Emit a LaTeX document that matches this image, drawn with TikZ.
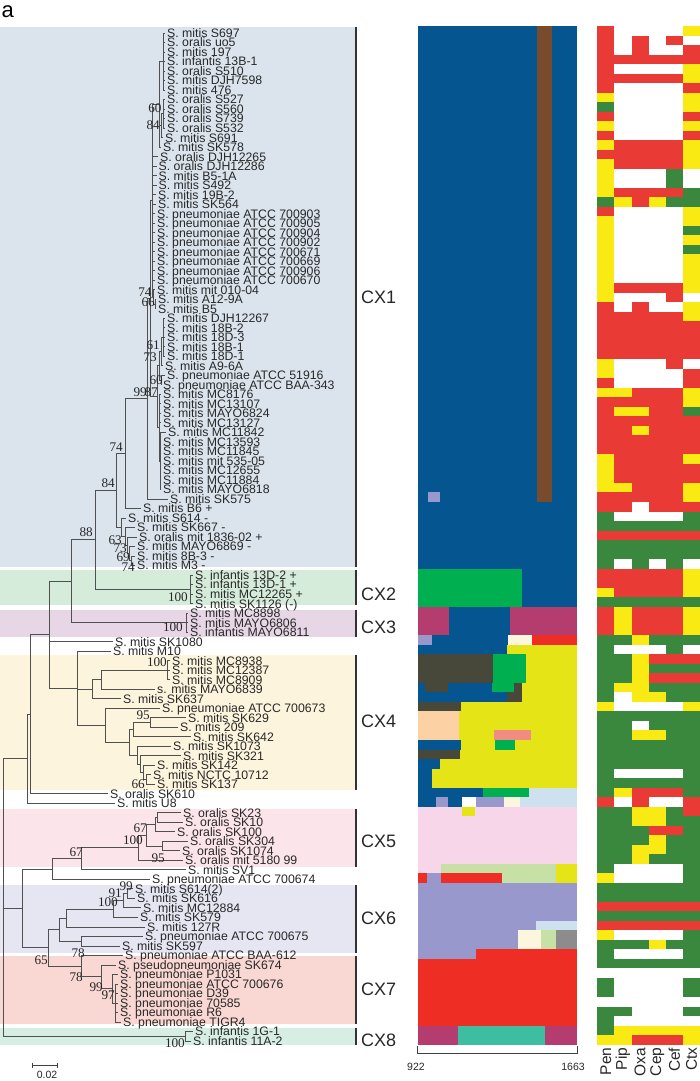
\documentclass[tikz,border=0pt]{standalone}
\usepackage{fontspec}
\setmainfont{Liberation Sans}
\newfontfamily\bsfont{Liberation Serif}
\usetikzlibrary{calc}
\definecolor{bandA}{RGB}{219,228,237}
\definecolor{bandB}{RGB}{214,236,219}
\definecolor{bandC}{RGB}{231,214,229}
\definecolor{bandD}{RGB}{253,244,221}
\definecolor{bandE}{RGB}{252,228,235}
\definecolor{bandF}{RGB}{229,230,242}
\definecolor{bandG}{RGB}{249,216,211}
\definecolor{bandH}{RGB}{214,238,228}
\definecolor{mBlue}{RGB}{5,85,145}
\definecolor{mBrown}{RGB}{120,75,45}
\definecolor{mGreen}{RGB}{0,175,80}
\definecolor{mPlum}{RGB}{180,60,110}
\definecolor{mLav}{RGB}{152,152,204}
\definecolor{mCream}{RGB}{250,247,222}
\definecolor{mRed}{RGB}{238,45,36}
\definecolor{mYel}{RGB}{228,228,22}
\definecolor{mOlive}{RGB}{72,72,58}
\definecolor{mPeach}{RGB}{252,210,165}
\definecolor{mSalmon}{RGB}{240,140,130}
\definecolor{mLblue}{RGB}{205,225,238}
\definecolor{mPink}{RGB}{246,214,232}
\definecolor{mLgreen}{RGB}{198,224,165}
\definecolor{mGray}{RGB}{140,140,140}
\definecolor{mTeal}{RGB}{62,190,160}
\definecolor{hR}{RGB}{234,58,53}
\definecolor{hY}{RGB}{250,234,20}
\definecolor{hG}{RGB}{58,135,62}
\definecolor{hW}{RGB}{255,255,255}
\definecolor{brc}{RGB}{80,80,80}
\definecolor{txc}{RGB}{40,40,40}
\newcommand\TNode[4]{\path let \p1=(#3), \p2=(#4) in coordinate (#1) at ({#2pt},{0.5*(\y1+\y2)});}
\newcommand\TEdge[2]{\foreach \ch in {#2}{\draw[br] (#1) |- (\ch);}}
\newcommand\MBox[5]{\fill[#5] (#1,{26+(#3-1)*9.52}) rectangle (#2,{26+#4*9.52});}
\newcommand\BLab[3]{\node[bsl] at (#1,#2) {#3};}
\begin{document}
\begin{tikzpicture}[x=1pt,y=-1pt,
  br/.style={draw=brc,line width=0.9pt},
  leaf/.style={anchor=base west,inner sep=0pt,text=txc,font=\fontsize{12.3}{12}\selectfont},
  bsl/.style={anchor=south east,inner sep=0pt,text=black!85,font=\bsfont\fontsize{13.2}{13}\selectfont},
  cxl/.style={anchor=west,inner sep=0pt,text=txc,font=\fontsize{18}{18}\selectfont},
  hml/.style={rotate=90,anchor=east,inner sep=0pt,text=txc,font=\fontsize{15.5}{15.5}\selectfont},
  axl/.style={anchor=north,inner sep=0pt,text=txc,font=\fontsize{10.5}{10.5}\selectfont}]
\useasboundingbox (0,0) rectangle (700,1081);
\fill[white] (0,0) rectangle (700,1081);
% clade bands
\fill[bandA] (0,27) rectangle (355,567);
\fill[bandB] (0,570) rectangle (355,605);
\fill[bandC] (0,610) rectangle (355,637);
\fill[bandD] (0,655) rectangle (355,790);
\fill[bandE] (0,809) rectangle (355,867);
\fill[bandF] (0,885) rectangle (355,953);
\fill[bandG] (0,956) rectangle (355,1024);
\fill[bandH] (0,1028) rectangle (355,1045);
\foreach \ya/\yb in {27/567,570/605,610/637,655/790,809/867,885/953,956/1024,1028/1045}
  {\draw[line width=1.8pt,black!80] (356,\ya) -- (356,\yb);}
\node[cxl] (cx1) at (361,297) {CX1};
\node[cxl] (cx2l) at (361,594) {CX2};
\node[cxl] (cx3l) at (361,627) {CX3};
\node[cxl] (cx4l) at (361,721) {CX4};
\node[cxl] (cx5l) at (361,841) {CX5};
\node[cxl] (cx6l) at (361,918) {CX6};
\node[cxl] (cx7l) at (361,989) {CX7};
\node[cxl] (cx8l) at (361,1040) {CX8};
\node[anchor=base west,inner sep=0pt,font=\fontsize{22}{22}\selectfont] (pa) at (1.5,18) {a};
% leaves
\foreach \i/\x/\t in {
1/165/S. mitis S697, 2/165/S. oralis uo5, 3/165/S. mitis 197, 4/165/S. infantis 13B-1,
5/165/S. oralis S510, 6/165/S. mitis DJH7598, 7/165/S. mitis 476, 8/165/S. oralis S527,
9/165/S. oralis S560, 10/165/S. oralis S739, 11/165/S. oralis S532, 12/163/S. mitis S691,
13/161/S. mitis SK578, 14/158/S. oralis DJH12265, 15/156.5/S. oralis DJH12286,
16/156.5/S. mitis B5-1A, 17/156.5/S. mitis S492, 18/156/S. mitis 19B-2, 19/156/S. mitis SK564,
20/155/S. pneumoniae ATCC 700903, 21/155/S. pneumoniae ATCC 700905, 22/155/S. pneumoniae ATCC 700904,
23/155/S. pneumoniae ATCC 700902, 24/155/S. pneumoniae ATCC 700671, 25/155/S. pneumoniae ATCC 700669,
26/155/S. pneumoniae ATCC 700906, 27/155/S. pneumoniae ATCC 700670, 28/155/S. mitis mit 010-04,
29/156/S. mitis A12-9A, 30/156/S. mitis B5, 31/165/S. mitis DJH12267, 32/165/S. mitis 18B-2,
33/165/S. mitis 18D-3, 34/165/S. mitis 18B-1, 35/165/S. mitis 18D-1, 36/163/S. mitis A9-6A,
37/165/S. pneumoniae ATCC 51916, 38/161/S. pneumoniae ATCC BAA-343, 39/161/S. mitis MC8176,
40/161/S. mitis MC13107, 41/161/S. mitis MAYO6824, 42/161/S. mitis MC13127, 43/166/S. mitis MC11842,
44/161/S. mitis MC13593, 45/161/S. mitis MC11845, 46/161/S. mitis mit 535-05, 47/161/S. mitis MC12655,
48/161/S. mitis MC11884, 49/161/S. mitis MAYO6818, 50/168/S. mitis SK575, 51/141/S. mitis B6 +,
52/126/S. mitis S614 -, 53/135/S. mitis SK667 -, 54/137/S. oralis mit 1836-02 +,
55/135/S. mitis MAYO6869 -, 56/135/S. mitis 8B-3 -, 57/135/S. mitis M3 -,
58/193/S. infantis 13D-2 +, 59/193/S. infantis 13D-1 +, 60/193/S. mitis MC12265 +, 61/193/S. mitis SK1126 (-),
62/188/S. mitis MC8898, 63/188/S. mitis MAYO6806, 64/188/S. infantis MAYO6811,
65/113/S. mitis SK1080, 66/111/S. mitis M10, 67/170/S. mitis MC8938, 68/170/S. mitis MC12387,
69/170/S. mitis MC8909, 70/155/s. mitis MAYO6839, 71/121/S. mitis SK637,
72/160/S. pneumoniae ATCC 700673, 73/186/S. mitis SK629, 74/178/S. mitis 209, 75/191/S. mitis SK642,
76/171/S. mitis SK1073, 77/181/S. mitis SK321, 78/155/S. mitis SK142, 79/151/S. mitis NCTC 10712,
80/155/S. mitis SK137, 81/108/S. oralis SK610, 82/115/S. mitis U8, 83/181/S. oralis SK23,
84/183/S. oralis SK10, 85/175/S. oralis SK100, 86/188/S. oralis SK304, 87/180/S. oralis SK1074,
88/183/S. oralis mit 5180 99, 89/186/S. mitis SV1, 90/150/S. pneumoniae ATCC 700674,
91/133/S. mitis S614(2), 92/135/S. mitis SK616, 93/141/S. mitis MC12884, 94/138/S. mitis SK579,
95/145/S. mitis 127R, 96/143/S. pneumoniae ATCC 700675, 97/120/S. mitis SK597,
98/123/S. pneumoniae ATCC BAA-612, 99/116/S. pseudopneumoniae SK674, 100/118/S. pneumoniae P1031,
101/118/S. pneumoniae ATCC 700676, 102/118/S. pneumoniae D39, 103/118/S. pneumoniae 70585,
104/118/S. pneumoniae R6, 105/121/S. pneumoniae TIGR4, 106/193/S. infantis 1G-1, 107/191/S. infantis 11A-2}
{\coordinate (l\i) at (\x,{33+(\i-1)*9.51});
 \node[leaf] (t\i) at (\x+2,{37.4+(\i-1)*9.51}) {\t};}
% internal nodes
\TNode{A1}{163.5}{l1}{l7}
\TNode{A60}{163}{l8}{l11}
\TNode{A84}{161.2}{A60}{l12}
\TNode{A2}{159.5}{A1}{l13}
\TNode{n66}{155}{l29}{l30}
\TNode{n74}{153.5}{l28}{n66}
\TNode{B1}{152.3}{A2}{n74}
\TNode{C1}{163}{l31}{l35}
\TNode{C2}{161}{C1}{l36}
\TNode{C60}{161}{l37}{l38}
\TNode{Cg}{159.5}{C2}{C60}
\TNode{D1}{160.2}{l43}{l49}
\TNode{Dg}{159.3}{l39}{D1}
\TNode{n87}{157.8}{Cg}{Dg}
\TNode{T1}{150}{B1}{n87}
\TNode{n99}{147}{T1}{l50}
\TNode{n74b}{125}{n99}{l51}
\TNode{k69}{131.5}{l56}{l57}
\TNode{k73}{129.5}{l55}{k69}
\TNode{k63}{127.5}{l54}{k73}
\TNode{k1}{125.5}{l53}{k63}
\TNode{k2}{121.5}{l52}{k1}
\TNode{n84}{116.7}{n74b}{k2}
\TNode{cx2}{190.5}{l58}{l61}
\TNode{n88}{95}{n84}{cx2}
\TNode{cx3}{186.5}{l62}{l64}
\TNode{n71}{71}{n88}{cx3}
\TNode{c67}{167.5}{l67}{l69}
\TNode{N1}{101.7}{c67}{l70}
\TNode{N2}{92.7}{N1}{l71}
\TNode{n95}{150}{l73}{l74}
\TNode{N4}{133}{n95}{l75}
\TNode{N7}{146.7}{l79}{l80}
\TNode{N6}{143.3}{l78}{N7}
\TNode{N5b}{140}{l77}{N6}
\TNode{N5}{137.3}{l76}{N5b}
\TNode{N34}{129}{N4}{N5}
\TNode{N3}{105}{l72}{N34}
\TNode{P77}{77}{l66}{N3}
\TNode{P49}{49.3}{n71}{P77}
\TNode{P30}{30.7}{P49}{l81}
\TNode{P27}{27}{P30}{l82}
\TNode{R157}{157.3}{l83}{l84}
\TNode{R155}{155}{R157}{l85}
\TNode{R162}{162}{l86}{l87}
\TNode{R148}{146}{R155}{R162}
\TNode{R138}{138.3}{R148}{l88}
\TNode{R82}{81.7}{R138}{l89}
\TNode{R52}{52.3}{R82}{l90}
\TNode{T99}{127}{l91}{l92}
\TNode{T91}{123}{T99}{l93}
\TNode{T100}{113.3}{T91}{l94}
\TNode{T67}{66.7}{T100}{l95}
\TNode{T82}{81.7}{l96}{l97}
\TNode{T59}{59.3}{T67}{T82}
\TNode{U115}{115}{l101}{l105}
\TNode{U112}{112.5}{l100}{U115}
\TNode{U101}{101.7}{l99}{U112}
\TNode{U81}{81.7}{l98}{U101}
\TNode{T48}{48.3}{T59}{U81}
\TNode{Q22}{22.3}{R52}{T48}
\TNode{V185}{185}{l106}{l107}
\TNode{root}{3.3}{P27}{V185}
% edges
\TEdge{A1}{l1,l2,l3,l4,l5,l6,l7}
\TEdge{A60}{l8,l9,l10,l11}
\TEdge{A84}{A60,l12}
\TEdge{A2}{A1,A84,l13}
\TEdge{n66}{l29,l30}
\TEdge{n74}{l28,n66}
\TEdge{B1}{A2,l14,l15,l16,l17,l18,l19,l20,l21,l22,l23,l24,l25,l26,l27,n74}
\TEdge{C1}{l31,l32,l33,l34,l35}
\TEdge{C2}{C1,l36}
\TEdge{C60}{l37,l38}
\TEdge{Cg}{C2,C60}
\TEdge{D1}{l43,l44,l45,l46,l47,l48,l49}
\TEdge{Dg}{l39,l40,l41,l42,D1}
\TEdge{n87}{Cg,Dg}
\TEdge{T1}{B1,n87}
\TEdge{n99}{T1,l50}
\TEdge{n74b}{n99,l51}
\TEdge{k69}{l56,l57}
\TEdge{k73}{l55,k69}
\TEdge{k63}{l54,k73}
\TEdge{k1}{l53,k63}
\TEdge{k2}{l52,k1}
\TEdge{n84}{n74b,k2}
\TEdge{cx2}{l58,l59,l60,l61}
\TEdge{n88}{n84,cx2}
\TEdge{cx3}{l62,l63,l64}
\TEdge{n71}{n88,cx3}
\TEdge{c67}{l67,l68,l69}
\TEdge{N1}{c67,l70}
\TEdge{N2}{N1,l71}
\TEdge{n95}{l73,l74}
\TEdge{N4}{n95,l75}
\TEdge{N7}{l79,l80}
\TEdge{N6}{l78,N7}
\TEdge{N5b}{l77,N6}
\TEdge{N5}{l76,N5b}
\TEdge{N34}{N4,N5}
\TEdge{N3}{l72,N34}
\TEdge{P77}{l66,N2,N3}
\TEdge{P49}{n71,l65,P77}
\TEdge{P30}{P49,l81}
\TEdge{P27}{P30,l82}
\TEdge{R157}{l83,l84}
\TEdge{R155}{R157,l85}
\TEdge{R162}{l86,l87}
\TEdge{R148}{R155,R162}
\TEdge{R138}{R148,l88}
\TEdge{R82}{R138,l89}
\TEdge{R52}{R82,l90}
\TEdge{T99}{l91,l92}
\TEdge{T91}{T99,l93}
\TEdge{T100}{T91,l94}
\TEdge{T67}{T100,l95}
\TEdge{T82}{l96,l97}
\TEdge{T59}{T67,T82}
\TEdge{U115}{l101,l102,l103,l104,l105}
\TEdge{U112}{l100,U115}
\TEdge{U101}{l99,U112}
\TEdge{U81}{l98,U101}
\TEdge{T48}{T59,U81}
\TEdge{Q22}{R52,T48}
\TEdge{V185}{l106,l107}
\TEdge{root}{P27,Q22,V185}
% bootstrap values
\BLab{161.7}{113}{60} \BLab{160}{130}{84} \BLab{151.7}{297}{74} \BLab{155}{307}{66}
\BLab{160}{350}{61} \BLab{157}{362}{73} \BLab{163}{385}{60} \BLab{147}{397}{99}
\BLab{158}{397}{87} \BLab{123}{452}{74} \BLab{115}{488}{84} \BLab{93}{537}{88}
\BLab{122}{545}{63} \BLab{127}{553}{73} \BLab{130}{562}{69} \BLab{135}{572}{74}
\BLab{188}{602}{100} \BLab{183}{632}{100} \BLab{167}{667}{100} \BLab{150}{720}{95}
\BLab{145}{789}{66} \BLab{147}{833}{67} \BLab{143}{845}{100} \BLab{165}{863}{95}
\BLab{83}{857}{67} \BLab{133}{891}{99} \BLab{122}{898}{91} \BLab{118}{907}{100}
\BLab{85}{958}{78} \BLab{48}{965}{65} \BLab{83}{982}{78} \BLab{103}{992}{99}
\BLab{115}{1000}{97} \BLab{185}{1048}{100}
% scale bar
\coordinate (sb1) at (32.3,1065); \coordinate (sb2) at (57.3,1065);
\draw[black!75,line width=0.8pt] (sb1) -- (sb2);
\draw[black!75,line width=0.8pt] ([yshift=-2.5pt]sb1) -- ([yshift=2.5pt]sb1);
\draw[black!75,line width=0.8pt] ([yshift=-2.5pt]sb2) -- ([yshift=2.5pt]sb2);
\node[axl] (sbl) at (47,1071) {0.02};
% middle heatmap
\MBox{417.5}{577}{1}{82}{mBlue}
\MBox{536.7}{552}{1}{50}{mBrown}
\MBox{428}{440}{50}{50}{mLav}
\MBox{417.5}{522}{58}{61}{mGreen}
\MBox{417.5}{449}{62}{64}{mPlum}
\MBox{510}{577}{62}{64}{mPlum}
\MBox{417.5}{432}{65}{65}{mLav}
\MBox{508.3}{532.3}{65}{65}{mCream}
\MBox{532.3}{577}{65}{65}{mRed}
\MBox{506.7}{577}{66}{66}{mYel}
\MBox{417.5}{492.7}{67}{69}{mOlive}
\MBox{492.7}{526}{67}{69}{mGreen}
\MBox{526}{577}{67}{69}{mYel}
\MBox{425}{448.3}{70}{70}{mOlive}
\MBox{491.7}{514}{70}{70}{mGreen}
\MBox{514}{521.7}{70}{71}{mOlive}
\MBox{521.7}{577}{70}{71}{mYel}
\MBox{506.7}{514}{71}{71}{mOlive}
\MBox{417.5}{460.7}{72}{72}{mOlive}
\MBox{460.7}{577}{72}{72}{mYel}
\MBox{417.5}{459.3}{73}{75}{mPeach}
\MBox{459.3}{577}{73}{75}{mYel}
\MBox{494}{531}{75}{75}{mSalmon}
\MBox{460.7}{577}{76}{76}{mYel}
\MBox{495}{515}{76}{76}{mGreen}
\MBox{417.5}{460}{77}{77}{mOlive}
\MBox{460}{577}{77}{77}{mYel}
\MBox{440}{577}{78}{78}{mYel}
\MBox{432}{577}{79}{80}{mYel}
\MBox{483.3}{529}{81}{81}{mGreen}
\MBox{529}{577}{81}{81}{mLblue}
\MBox{436}{447.7}{82}{82}{mLav}
\MBox{461.7}{475.7}{82}{82}{white}
\MBox{475.7}{504.3}{82}{82}{mLav}
\MBox{504.3}{520}{82}{82}{mCream}
\MBox{520}{577}{82}{82}{mLblue}
\MBox{417.5}{577}{83}{88}{mPink}
\MBox{461.7}{475}{83}{83}{mYel}
\MBox{417.5}{440.7}{89}{89}{mPink}
\MBox{440.7}{555.7}{89}{89}{mLgreen}
\MBox{555.7}{577}{89}{90}{mYel}
\MBox{417.5}{427.3}{90}{90}{mRed}
\MBox{427.3}{440.7}{90}{90}{mLav}
\MBox{440.7}{501.7}{90}{90}{mRed}
\MBox{501.7}{555.7}{90}{90}{mLgreen}
\MBox{417.5}{577}{91}{97}{mLav}
\MBox{535.7}{577}{95}{95}{mLblue}
\MBox{518.3}{540.7}{96}{97}{mCream}
\MBox{540.7}{555.7}{96}{97}{mLgreen}
\MBox{555.7}{577}{96}{97}{mGray}
\MBox{417.5}{475.7}{98}{98}{mLav}
\MBox{475.7}{577}{98}{98}{mRed}
\MBox{417.5}{577}{99}{105}{mRed}
\MBox{417.5}{457.7}{106}{107}{mPlum}
\MBox{457.7}{545}{106}{107}{mTeal}
\MBox{545}{577}{106}{107}{mPlum}
% axis
\coordinate (ax1) at (417.5,1053); \coordinate (ax2) at (577,1053);
\draw[black!75,line width=0.8pt] ([yshift=7pt]ax1) -- (ax1) -- (ax2) -- ([yshift=7pt]ax2);
\node[axl] (a922) at (416,1063) {922};
\node[axl] (a1663) at (573,1063) {1663};
% right heatmap
\foreach \rr/\va/\vb/\vc/\vd/\ve/\vf in {
1/R/W/W/W/W/Y,2/R/W/R/W/R/W,3/R/W/R/W/W/R,4/R/R/R/R/R/R,5/R/W/W/W/W/Y,
6/R/R/R/R/R/Y,7/R/W/W/W/W/R,8/Y/W/W/W/W/Y,9/G/W/W/W/W/Y,10/R/W/W/W/W/R,
11/Y/W/W/W/W/Y,12/R/W/W/W/W/R,13/Y/R/R/R/R/Y,14/R/R/R/R/R/Y,15/Y/R/R/R/R/Y,
16/Y/W/W/W/G/W,17/Y/W/W/W/G/W,18/Y/R/R/R/R/G,19/G/Y/R/Y/G/G,20/R/W/W/W/W/Y,
21/Y/W/W/W/W/Y,22/Y/W/W/W/W/G,23/Y/W/W/W/W/Y,24/Y/W/W/W/W/G,25/Y/W/W/W/W/Y,
26/Y/W/W/W/W/Y,27/Y/W/W/W/W/Y,28/Y/R/R/R/R/Y,29/Y/W/W/W/R/W,30/R/W/R/W/W/Y,
31/R/R/R/R/R/Y,32/R/R/R/R/R/R,33/R/R/R/R/R/R,34/R/R/R/R/R/R,35/R/R/R/R/R/R,
36/Y/W/W/W/R/W,37/Y/W/W/W/W/R,38/R/W/W/W/W/R,39/Y/Y/R/R/R/Y,40/R/R/R/R/R/Y,
41/R/Y/Y/R/R/G,42/R/R/R/R/R/R,43/R/R/Y/R/R/R,44/R/R/R/R/R/R,45/R/R/R/R/R/R,
46/Y/R/R/R/R/Y,47/Y/R/R/R/R/R,48/Y/R/R/R/R/R,49/Y/Y/R/R/R/Y,50/R/R/R/R/R/Y,
51/R/R/W/R/R/R,52/G/W/W/W/W/G,53/G/G/G/G/G/G,54/R/R/R/R/R/R,55/G/G/G/G/G/G,
56/G/G/G/G/G/G,57/G/W/G/W/G/W,58/R/R/R/R/R/Y,59/R/R/R/R/R/Y,60/Y/R/R/R/R/Y,
61/G/G/G/G/G/G,62/R/Y/R/R/R/Y,63/R/Y/R/R/R/Y,64/R/Y/R/R/R/Y,65/G/G/Y/G/G/G,
66/G/W/W/W/G/W,67/G/G/Y/R/R/R,68/G/G/Y/G/G/G,69/G/G/Y/R/R/R,70/G/Y/Y/G/G/G,
71/G/W/Y/Y/G/G,72/Y/W/W/W/W/Y,73/G/G/G/G/G/G,74/G/G/W/G/G/G,75/G/G/Y/Y/G/G,
76/G/G/G/G/G/G,77/G/G/G/G/G/G,78/G/G/G/G/G/G,79/G/W/W/W/W/G,80/G/G/G/G/G/G,
81/G/Y/R/R/R/G,82/R/W/R/W/W/R,83/G/G/Y/Y/G/R,84/G/G/Y/Y/G/G,85/G/G/G/R/R/G,
86/G/G/G/Y/G/G,87/G/G/Y/Y/G/G,88/G/G/Y/G/G/G,89/G/W/W/W/W/G,90/Y/W/W/W/W/G,
91/G/G/G/G/G/G,92/G/G/G/G/G/G,93/R/R/R/R/R/R,94/G/G/G/G/G/G,95/R/R/R/R/R/R,
96/Y/W/W/W/W/G,97/G/G/G/Y/G/G,98/G/W/W/W/W/G,99/G/G/G/G/G/G,100/W/W/W/W/W/W,
101/G/W/W/W/W/G,102/G/W/W/W/W/G,103/W/W/W/W/W/W,104/G/G/W/W/W/G,105/G/W/W/W/W/W,
106/G/Y/Y/Y/Y/Y,107/Y/Y/R/R/R/Y}
{\foreach \k/\v in {1/\va,2/\vb,3/\vc,4/\vd,5/\ve,6/\vf}
  {\fill[fill=h\v] ({597.3+(\k-1)*17.12},{26+(\rr-1)*9.52}) rectangle ({597.3+\k*17.12+0.3},{26+\rr*9.52+0.3});}}
\foreach \k/\t in {1/Pen,2/Pip,3/Oxa,4/Cep,5/Cef,6/Ctx}
  {\node[hml] (h\k) at ({597.3+(\k-0.5)*17.12},1047.5) {\t};}
\end{tikzpicture}
\end{document}
